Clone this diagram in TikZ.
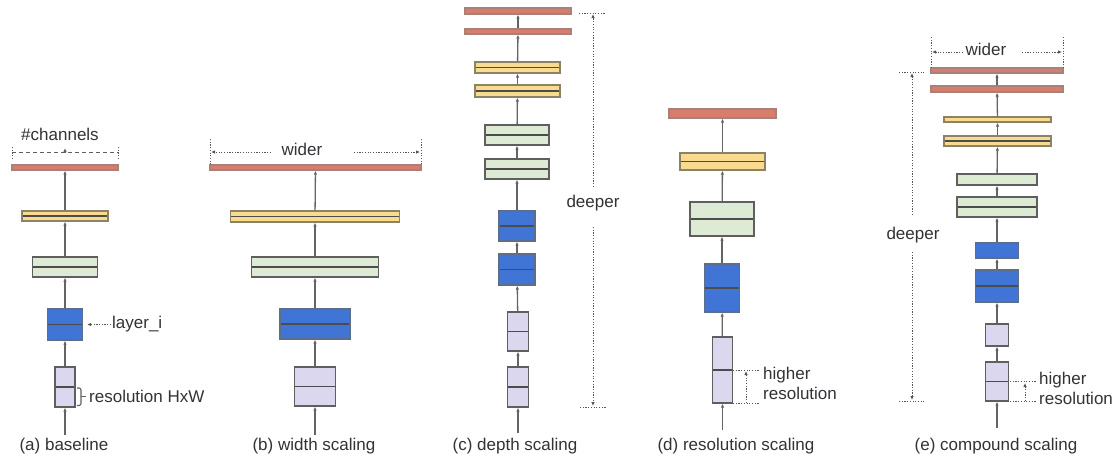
\documentclass[tikz,border=0pt]{standalone}
\usepackage{fontspec}
\setmainfont{Liberation Sans}
\usetikzlibrary{arrows.meta}
\definecolor{HeadRed}{RGB}{216,124,108}
\definecolor{PoolYel}{RGB}{248,219,142}
\definecolor{ConvGrn}{RGB}{221,235,213}
\definecolor{ConvBlu}{RGB}{64,117,214}
\definecolor{InpPur}{RGB}{218,215,238}
\definecolor{EdgeGray}{RGB}{95,95,95}
\definecolor{FlowGray}{RGB}{100,100,100}
\definecolor{TextGray}{RGB}{50,50,55}

\begin{document}
\begin{tikzpicture}[x=1pt,y=-1pt]
	\tikzstyle{blk} = [rectangle, inner sep=0pt, draw=EdgeGray, line width=1.3pt]
	\tikzstyle{headbar} = [blk, fill=HeadRed, draw=HeadRed!60!black!70]
	\tikzstyle{yelbox} = [blk, fill=PoolYel, draw=PoolYel!45!black!80]
	\tikzstyle{grnbox} = [blk, fill=ConvGrn]
	\tikzstyle{blubox} = [blk, fill=ConvBlu, draw=ConvBlu!40!black!70]
	\tikzstyle{purbox} = [blk, fill=InpPur]
	\tikzstyle{split} = [path picture={\draw[line width=1.2pt, draw=EdgeGray!80!black] (path picture bounding box.west) -- (path picture bounding box.east);}]
	\tikzstyle{flow} = [draw=FlowGray, line width=1.3pt, -{Latex[length=4pt,width=3.5pt]}]
	\tikzstyle{guide} = [draw=EdgeGray!90!black, line width=1pt, dash pattern=on 1.2pt off 1.5pt]
	\tikzstyle{guidearrow} = [guide, -{Latex[length=4pt,width=3.5pt]}]
	\tikzstyle{lbl} = [font=\fontsize{17}{20}\selectfont, text=TextGray, inner sep=0pt]

	\useasboundingbox (0,0) rectangle (1117,459);

	% (a) baseline
	\coordinate (a0) at (65,435);
	\node (a1) [purbox, split, minimum width=20pt, minimum height=40pt] at (65,387) {};
	\node (a2) [blubox, split, minimum width=35pt, minimum height=31pt] at (65,324.5) {};
	\node (a3) [grnbox, split, minimum width=65pt, minimum height=20pt] at (65,267) {};
	\node (a4) [yelbox, split, minimum width=86pt, minimum height=10pt] at (65,216) {};
	\node (a5) [headbar, minimum width=106pt, minimum height=5pt] at (65,167.5) {};
	\draw [flow] (a0) -- (a1);
	\draw [flow] (a1) -- (a2);
	\draw [flow] (a2) -- (a3);
	\draw [flow] (a3) -- (a4);
	\draw [flow] (a4) -- (a5);
	\coordinate (chL) at (12,152);
	\coordinate (chR) at (118,152);
	\coordinate (chtip) at (65,148);
	\draw [draw=EdgeGray, line width=1pt, dash pattern=on 4pt off 3pt] (chL) -- (chR);
	\draw [guide] (12,147) -- (12,158);
	\draw [guide] (118,147) -- (118,158);
	\draw [flow] (65,153) -- (chtip);
	\node (chan) [lbl] at (60,134) {\#channels};
	\node (lyr) [lbl, anchor=west] at (112,324.5) {layer\_i};
	\draw [guidearrow, shorten >=4pt, shorten <=1pt] (lyr.west) -- (a2.east);
	\draw [draw=EdgeGray, line width=1.1pt, rounded corners=2pt] (77,388) -- (81,388) -- (81,405.5) -- (77,405.5);
	\draw [draw=EdgeGray, line width=1.1pt] (81,396.5) -- (86,396.5);
	\node (hxw) [lbl, anchor=west] at (89,396.5) {resolution HxW};
	\node (capa) [lbl] at (64,446) {(a) baseline};

	% (b) width scaling
	\coordinate (b0) at (315,435);
	\node (b1) [purbox, split, minimum width=41pt, minimum height=39pt] at (315,386.5) {};
	\node (b2) [blubox, split, minimum width=70pt, minimum height=30pt] at (315,324) {};
	\node (b3) [grnbox, split, minimum width=127pt, minimum height=20pt] at (315,267) {};
	\node (b4) [yelbox, split, minimum width=169pt, minimum height=11pt] at (315,216.5) {};
	\node (b5) [headbar, minimum width=211pt, minimum height=5pt] at (315.5,167.5) {};
	\draw [flow] (b0) -- (b1);
	\draw [flow] (b1) -- (b2);
	\draw [flow] (b2) -- (b3);
	\draw [flow] (b3) -- (b4);
	\draw [flow] (b4) -- (b5);
	\coordinate (bwl) at (211,152);
	\coordinate (bwr) at (420,152);
	\draw [guide] (210,139) -- (210,164);
	\draw [guide] (421,139) -- (421,164);
	\draw [guidearrow] (271,152) -- (bwl);
	\draw [guidearrow] (354,152) -- (bwr);
	\node (bwide) [lbl] at (302,149) {wider};
	\node (capb) [lbl] at (314,446) {(b) width scaling};

	% (c) depth scaling
	\coordinate (c0) at (518,433);
	\node (c1) [purbox, split, minimum width=21pt, minimum height=40pt] at (518,387) {};
	\node (c2) [purbox, split, minimum width=21pt, minimum height=39pt] at (518,331.5) {};
	\node (c3) [blubox, split, minimum width=36pt, minimum height=31pt] at (517,269.5) {};
	\node (c4) [blubox, split, minimum width=36pt, minimum height=30pt] at (517,226) {};
	\node (c5) [grnbox, split, minimum width=64pt, minimum height=20pt] at (517,169) {};
	\node (c6) [grnbox, split, minimum width=64pt, minimum height=20pt] at (517,135) {};
	\node (c7) [yelbox, split, minimum width=85pt, minimum height=12pt] at (517.5,91) {};
	\node (c8) [yelbox, split, minimum width=85pt, minimum height=11pt] at (517.5,67.5) {};
	\node (c9) [headbar, minimum width=106pt, minimum height=5pt] at (518,31.5) {};
	\node (c10) [headbar, minimum width=106pt, minimum height=6pt] at (518,11) {};
	\draw [flow] (c0) -- (c1);
	\draw [flow] (c1) -- (c2);
	\draw [flow] (c2) -- (c3);
	\draw [flow] (c3) -- (c4);
	\draw [flow] (c4) -- (c5);
	\draw [flow] (c5) -- (c6);
	\draw [flow] (c6) -- (c7);
	\draw [flow] (c7) -- (c8);
	\draw [flow] (c8) -- (c9);
	\draw [flow] (c9) -- (c10);
	\coordinate (cup) at (593,187);
	\coordinate (cdn) at (593,227);
	\coordinate (ctop) at (593,14);
	\coordinate (cbot) at (593,406);
	\draw [guide] (579,13) -- (606,13);
	\draw [guide] (580,407) -- (607,407);
	\draw [guidearrow] (cup) -- (ctop);
	\draw [guidearrow] (cdn) -- (cbot);
	\node (cdeep) [lbl] at (593,203) {deeper};
	\node (capc) [lbl] at (515,446) {(c) depth scaling};

	% (d) resolution scaling
	\coordinate (d0) at (722.5,430);
	\node (d1) [purbox, split, minimum width=20pt, minimum height=66pt] at (722.5,370) {};
	\node (d2) [blubox, split, minimum width=35pt, minimum height=48pt] at (722,288) {};
	\node (d3) [grnbox, split, minimum width=64pt, minimum height=34pt] at (722,219) {};
	\node (d4) [yelbox, split, minimum width=85pt, minimum height=17pt] at (722.5,161.5) {};
	\node (d5) [headbar, minimum width=107pt, minimum height=9pt] at (722.5,113.5) {};
	\draw [flow] (d0) -- (d1);
	\draw [flow] (d1) -- (d2);
	\draw [flow] (d2) -- (d3);
	\draw [flow] (d3) -- (d4);
	\draw [flow] (d4) -- (d5);
	\coordinate (dlo) at (746,403);
	\coordinate (dhi) at (746,371);
	\draw [guide] (733,370) -- (759,370);
	\draw [guide] (733,403.5) -- (759,403.5);
	\draw [guidearrow] (dlo) -- (dhi);
	\node (dres) [lbl, anchor=west, align=left] at (763,383) {higher\\resolution};
	\node (capd) [lbl] at (736,446) {(d) resolution scaling};

	% (e) compound scaling
	\coordinate (e0) at (997,428);
	\node (e1) [purbox, split, minimum width=23pt, minimum height=39pt] at (997,381.5) {};
	\node (e2) [purbox, minimum width=23pt, minimum height=22pt] at (997,335) {};
	\node (e3) [blubox, split, minimum width=43pt, minimum height=32pt] at (997,286) {};
	\node (e4) [blubox, minimum width=43pt, minimum height=15pt] at (997,250.5) {};
	\node (e5) [grnbox, split, minimum width=80pt, minimum height=20pt] at (997,207) {};
	\node (e6) [grnbox, minimum width=80pt, minimum height=11pt] at (997,179.5) {};
	\node (e7) [yelbox, split, minimum width=107pt, minimum height=10pt] at (997.5,141) {};
	\node (e8) [yelbox, minimum width=107pt, minimum height=5pt] at (997.5,119.5) {};
	\node (e9) [headbar, minimum width=132pt, minimum height=6pt] at (997,89) {};
	\node (e10) [headbar, minimum width=132pt, minimum height=5pt] at (997,70.5) {};
	\draw [flow] (e0) -- (e1);
	\draw [flow] (e1) -- (e2);
	\draw [flow] (e2) -- (e3);
	\draw [flow] (e3) -- (e4);
	\draw [flow] (e4) -- (e5);
	\draw [flow] (e5) -- (e6);
	\draw [flow] (e6) -- (e7);
	\draw [flow] (e7) -- (e8);
	\draw [flow] (e8) -- (e9);
	\draw [flow] (e9) -- (e10);
	% wider
	\coordinate (ewl) at (932,52);
	\coordinate (ewr) at (1062,52);
	\draw [guide] (931,37) -- (931,67);
	\draw [guide] (1063,37) -- (1063,67);
	\draw [guidearrow] (963,52) -- (ewl);
	\draw [guidearrow] (1022,52) -- (ewr);
	\node (ewide) [lbl] at (986,49) {wider};
	% deeper
	\coordinate (eup) at (912,215);
	\coordinate (edn) at (912,252);
	\coordinate (etop) at (912,73);
	\coordinate (ebot) at (912,400);
	\draw [guide] (899,72) -- (924,72);
	\draw [guide] (899,401) -- (924,401);
	\draw [guidearrow] (eup) -- (etop);
	\draw [guidearrow] (edn) -- (ebot);
	\node (edeep) [lbl] at (913,235) {deeper};
	% higher resolution
	\coordinate (elo) at (1025,401);
	\coordinate (ehi) at (1025,383);
	\draw [guide] (1010,381.5) -- (1037,381.5);
	\draw [guide] (1010,401) -- (1037,401);
	\draw [guidearrow] (elo) -- (ehi);
	\node (eres) [lbl, anchor=west, align=left] at (1039,388) {higher\\resolution};
	\node (cape) [lbl] at (996,446) {(e) compound scaling};
\end{tikzpicture}
\end{document}
